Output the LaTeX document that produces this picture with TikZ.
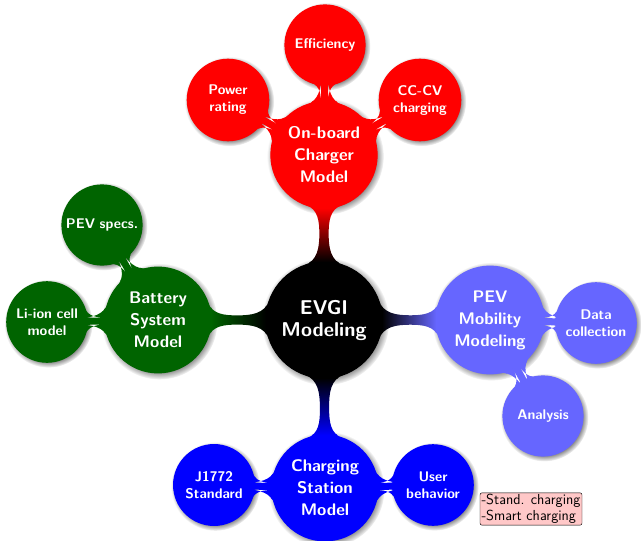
\documentclass[tikz,border=0pt]{standalone}
\usetikzlibrary{mindmap,shadows}
\definecolor{bsgreen}{RGB}{0,100,0}
\definecolor{pevblue}{RGB}{102,102,255}
\definecolor{annopink}{RGB}{255,200,200}
\begin{document}
\begin{tikzpicture}[x=1pt, y=1pt,
  basecircle/.style={concept, circle, text=white, inner sep=0pt, align=center, circular drop shadow},
  rootc/.style={basecircle, concept color=black, minimum size=116pt, text width=100pt,
    font=\sffamily\bfseries\fontsize{20}{22}\selectfont},
  lvlone/.style={basecircle, minimum size=104pt, text width=90pt,
    font=\sffamily\bfseries\fontsize{16.8}{22}\selectfont},
  lvltwo/.style={basecircle, minimum size=80pt, text width=76pt,
    font=\sffamily\bfseries\fontsize{14}{17}\selectfont},
  annot/.style={rectangle, draw=black, fill=annopink, rounded corners=2pt, align=left,
    inner sep=1.5pt, text=black, font=\sffamily\fontsize{14.5}{16}\selectfont}
]
\useasboundingbox (0,0) rectangle (641,-541);

\begin{scope}[mindmap]
\node[rootc] (root) at (324,-320) {EVGI\\Modeling};

\node[lvlone, concept color=red] (ob) at (324,-155) {On-board\\Charger\\Model};
\node[lvltwo, concept color=red] (eff) at (325,-45) {Efficiency};
\node[lvltwo, concept color=red] (pow) at (228,-100) {Power\\rating};
\node[lvltwo, concept color=red] (cccv) at (420,-100) {CC-CV\\charging};

\node[lvlone, concept color=bsgreen] (bat) at (158,-320) {Battery\\System\\Model};
\node[lvltwo, concept color=bsgreen] (li) at (47,-322) {Li-ion cell\\model};
\node[lvltwo, concept color=bsgreen] (spec) at (102,-225) {PEV specs.};

\node[lvlone, concept color=pevblue] (pev) at (490,-320) {PEV\\Mobility\\Modeling};
\node[lvltwo, concept color=pevblue] (data) at (596,-323) {Data\\collection};
\node[lvltwo, concept color=pevblue] (ana) at (543,-416) {Analysis};

\node[lvlone, concept color=blue] (cs) at (325,-488) {Charging\\Station\\Model};
\node[lvltwo, concept color=blue] (j) at (214,-485) {J1772\\Standard};
\node[lvltwo, concept color=blue] (ub) at (433,-485) {User\\behavior};

\path (root) to[circle connection bar switch color=from (black) to (red)] (ob);
\path (root) to[circle connection bar switch color=from (black) to (bsgreen)] (bat);
\path (root) to[circle connection bar switch color=from (black) to (pevblue)] (pev);
\path (root) to[circle connection bar switch color=from (black) to (blue)] (cs);

\path (ob) to[circle connection bar switch color=from (red) to (red)] (eff);
\path (ob) to[circle connection bar switch color=from (red) to (red)] (pow);
\path (ob) to[circle connection bar switch color=from (red) to (red)] (cccv);
\path (bat) to[circle connection bar switch color=from (bsgreen) to (bsgreen)] (li);
\path (bat) to[circle connection bar switch color=from (bsgreen) to (bsgreen)] (spec);
\path (pev) to[circle connection bar switch color=from (pevblue) to (pevblue)] (data);
\path (pev) to[circle connection bar switch color=from (pevblue) to (pevblue)] (ana);
\path (cs) to[circle connection bar switch color=from (blue) to (blue)] (j);
\path (cs) to[circle connection bar switch color=from (blue) to (blue)] (ub);
\end{scope}

\node[annot] (ann) at (531,-509) {-Stand. charging\\-Smart charging};
\end{tikzpicture}
\end{document}
